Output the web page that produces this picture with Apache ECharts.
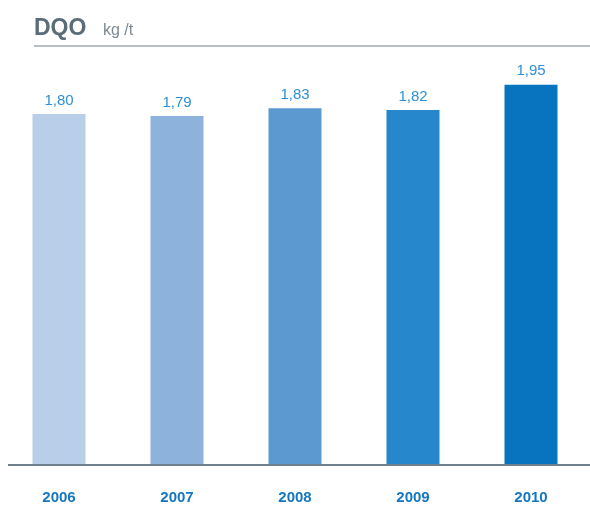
<!DOCTYPE html>
<html><head><meta charset="utf-8">
<script src="https://cdn.jsdelivr.net/npm/echarts@6/dist/echarts.min.js"></script>
<style>html,body{margin:0;padding:0;background:#fff}#c{width:590px;height:505px}</style>
</head><body><div id="c"></div>
<script>
const categories = ['2006', '2007', '2008', '2009', '2010'];
const values = [1.80, 1.79, 1.83, 1.82, 1.95];
const barColors = ['#b9cee8', '#8db2dc', '#5d99d1', '#2787cc', '#0874bf'];

const chart = echarts.init(document.getElementById('c'), null, {renderer: 'canvas'});
chart.setOption({
  animation: false,
  textStyle: {fontFamily: 'Liberation Sans, Arial, sans-serif'},
  grid: {left: 0, right: -1, top: 36, bottom: 40},
  xAxis: {
    type: 'category', data: categories,
    axisLine: {show: false}, axisTick: {show: false},
    axisLabel: {color: '#1477c0', fontWeight: 'bold', fontSize: 15, margin: 25}
  },
  yAxis: {type: 'value', min: 0, max: 2.2, show: false, splitLine: {show: false}},
  series: [{
    type: 'bar', barWidth: 53,
    data: values.map((v, i) => ({value: v, itemStyle: {color: barColors[i]}})),
    label: {
      show: true, position: 'top', distance: 6,
      color: '#2f8fd5', fontSize: 15,
      formatter: p => p.value.toFixed(2).replace('.', ',')
    }
  }],
  graphic: [
    {type: 'line', shape: {x1: 34, y1: 46, x2: 590, y2: 46}, style: {stroke: '#6e808c', lineWidth: 1.2}},
    {type: 'line', shape: {x1: 8, y1: 465, x2: 590, y2: 465}, style: {stroke: '#6e808c', lineWidth: 2}, z: 10},
    {type: 'text', left: 34, top: 17, style: {text: 'DQO', fontSize: 23, fontWeight: 'bold', fill: '#5b6c79', fontFamily: 'Liberation Sans, Arial, sans-serif'}},
    {type: 'text', left: 103, top: 23, style: {text: 'kg /t', fontSize: 16, fill: '#7d8a94', fontFamily: 'Liberation Sans, Arial, sans-serif'}}
  ]
});
</script></body></html>
